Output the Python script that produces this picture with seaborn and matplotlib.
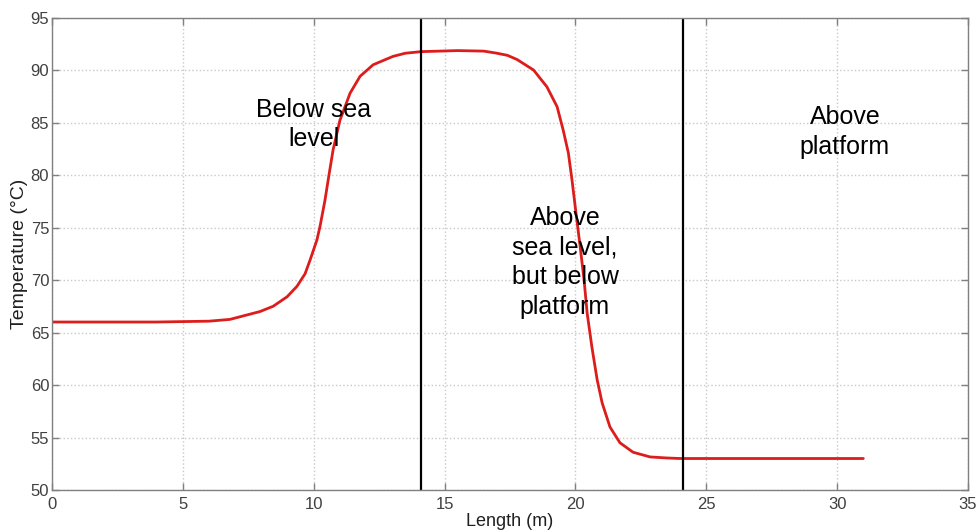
import matplotlib
matplotlib.use("Agg")
import matplotlib.pyplot as plt
import seaborn as sns
import pandas as pd

# values
length_m = [0, 2, 4, 6, 6.8, 7.95, 8.45, 8.98, 9.36, 9.67, 9.86, 10.12, 10.24,
            10.43, 10.55, 10.74, 11.0, 11.39, 11.77, 12.27, 13.03, 13.5, 14.1,
            15.5, 16.5, 17.0, 17.4, 17.77, 18.4, 18.91, 19.3, 19.53, 19.73,
            19.87, 20.02, 20.18, 20.33, 20.45, 20.63, 20.83, 21.02, 21.32, 21.7,
            22.2, 22.85, 23.5, 24.0, 27.0, 31.0]
temperature = [66.0, 66.0, 66.0, 66.08, 66.25, 67.0, 67.5, 68.4, 69.4, 70.6,
               71.9, 73.8, 75.1, 77.6, 79.5, 82.4, 85.2, 87.8, 89.4, 90.5, 91.3,
               91.6, 91.75, 91.85, 91.8, 91.6, 91.4, 91.0, 90.0, 88.4, 86.5,
               84.3, 82.1, 79.5, 76.4, 73.2, 70.0, 66.8, 63.6, 60.5, 58.3, 56.0,
               54.5, 53.6, 53.15, 53.05, 53.0, 53.0, 53.0]
boundaries = [14.1, 24.1]
zone_labels = ["Below sea\nlevel", "Above\nsea level,\nbut below\nplatform", "Above\nplatform"]
zone_x = [10.0, 19.6, 30.3]
zone_y = [84.8, 71.7, 84.1]
x_ticks = list(range(0, 36, 5))
y_ticks = list(range(50, 96, 5))

df = pd.DataFrame({"Length (m)": length_m, "Temperature (°C)": temperature})

sns.set_style("white")
plt.rcParams["font.family"] = ["Liberation Sans", "DejaVu Sans"]

fig = plt.figure(figsize=(9.76, 5.31), dpi=100)
ax = fig.add_axes([0.0533, 0.0772, 0.9385, 0.8898])

sns.lineplot(data=df, x="Length (m)", y="Temperature (°C)", ax=ax,
             color="#dd1c1c", linewidth=2.0, sort=False)

for b in boundaries:
    ax.axvline(b, color="black", linewidth=1.6)

for label, tx, ty in zip(zone_labels, zone_x, zone_y):
    ax.text(tx, ty, label, ha="center", va="center", fontsize=18,
            color="black", linespacing=1.3)

ax.set_xlim(0, 35)
ax.set_ylim(50, 95)
ax.set_xticks(x_ticks)
ax.set_yticks(y_ticks)
ax.grid(True, linestyle=":", color="#c8c8c8", linewidth=1.0)
ax.tick_params(direction="in", length=5, width=1, colors="#808080",
               labelcolor="#404040", labelsize=12, top=True, right=True,
               left=True, bottom=True)
ax.tick_params(axis="x", pad=5)
ax.tick_params(axis="y", pad=2)
for s in ax.spines.values():
    s.set_color("#808080")
    s.set_linewidth(1.0)
ax.set_xlabel("Length (m)", fontsize=13, color="#202020", labelpad=1)
ax.set_ylabel("Temperature (°C)", fontsize=14, color="#202020", labelpad=2)

fig.savefig("out.png", dpi=100)
